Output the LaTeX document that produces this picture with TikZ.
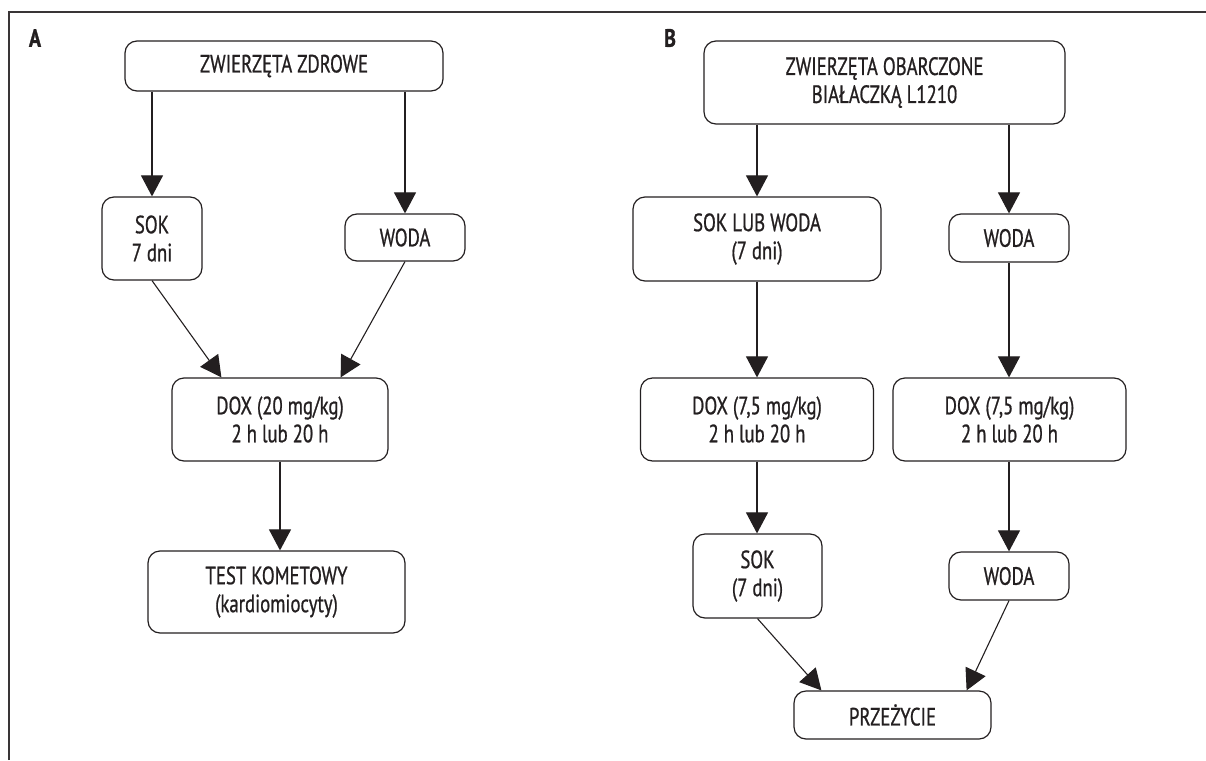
\documentclass[tikz,border=0pt]{standalone}
\usepackage{fontspec}
\setmainfont{PT Sans}[FakeStretch=0.75, FakeBold=0.8]
\newfontfamily\lblfont{PT Sans}[FakeStretch=0.8, BoldFeatures={FakeBold=1.2}]
\usetikzlibrary{arrows.meta}
\definecolor{ink}{HTML}{231F20}
\begin{document}
\begin{tikzpicture}[x=1pt,y=-1pt,
  box/.style={draw=ink, line width=1.2pt, rounded corners=12pt, align=center, inner sep=0pt,
    text=ink, font=\fontsize{25}{28}\selectfont},
  arr/.style={draw=ink, line width=1.1pt, -{Triangle[length=21pt,width=22pt]}},
  panel/.style={text=ink, font=\lblfont\bfseries\fontsize{25}{28}\selectfont}]
\useasboundingbox (0,0) rectangle (1206,760);
\draw[ink!90, line width=1.2pt] (9,760) -- (9,12) -- (1206,12);
% labels
\node[panel] (la) at (35,38) {A};
\node[panel] (lb) at (670,38) {B};
% panel A
\node[box, minimum width=318pt, minimum height=50pt] (zd) at (284,66) {ZWIERZĘTA ZDROWE};
\node[box, minimum width=100pt, minimum height=83pt] (sokA) at (152,238.5) {SOK\\7 dni};
\node[box, minimum width=120pt, minimum height=47pt] (wodaA) at (405,237.5) {WODA};
\node[box, minimum width=216pt, minimum height=83pt] (doxA) at (280,419.5) {DOX (20 mg/kg)\\2 h lub 20 h};
\node[box, minimum width=257pt, minimum height=82pt] (test) at (276.5,592) {TEST KOMETOWY\\(kardiomiocyty)};
\draw[arr] (sokA.north |- zd.south) -- (sokA.north);
\draw[arr] (wodaA.north |- zd.south) -- (wodaA.north);
\draw[arr] (sokA.south) -- ([xshift=50pt]doxA.north west);
\draw[arr] (wodaA.south) -- ([xshift=-48pt]doxA.north east);
\draw[arr] (doxA.south) -- (doxA.south |- test.north);
% panel B
\node[box, minimum width=361pt, minimum height=83pt] (zo) at (884.5,82.5) {ZWIERZĘTA OBARCZONE\\BIAŁACZKĄ L1210};
\node[box, minimum width=248pt, minimum height=84pt] (slw) at (757,239) {SOK LUB WODA\\(7 dni)};
\node[box, minimum width=120pt, minimum height=48pt] (wodaB1) at (1009,238) {WODA};
\node[box, minimum width=233pt, minimum height=83pt] (doxB1) at (757,419.5) {DOX (7,5 mg/kg)\\2 h lub 20 h};
\node[box, minimum width=233pt, minimum height=83pt] (doxB2) at (1009.5,419.5) {DOX (7,5 mg/kg)\\2 h lub 20 h};
\node[box, minimum width=129pt, minimum height=84pt] (sokB) at (757.5,576) {SOK\\(7 dni)};
\node[box, minimum width=120pt, minimum height=48pt] (wodaB2) at (1009,576) {WODA};
\node[box, minimum width=197pt, minimum height=48pt] (prz) at (892.5,715) {PRZEŻYCIE};
\draw[arr] (slw.north |- zo.south) -- (slw.north);
\draw[arr] (wodaB1.north |- zo.south) -- (wodaB1.north);
\draw[arr] (slw.south) -- (slw.south |- doxB1.north);
\draw[arr] (wodaB1.south) -- (wodaB1.south |- doxB2.north);
\draw[arr] (doxB1.south) -- (doxB1.south |- sokB.north);
\draw[arr] (wodaB2.north |- doxB2.south) -- (wodaB2.north);
\draw[arr] (sokB.south) -- ([xshift=28pt]prz.north west);
\draw[arr] (wodaB2.south) -- ([xshift=-25pt]prz.north east);
\end{tikzpicture}
\end{document}
